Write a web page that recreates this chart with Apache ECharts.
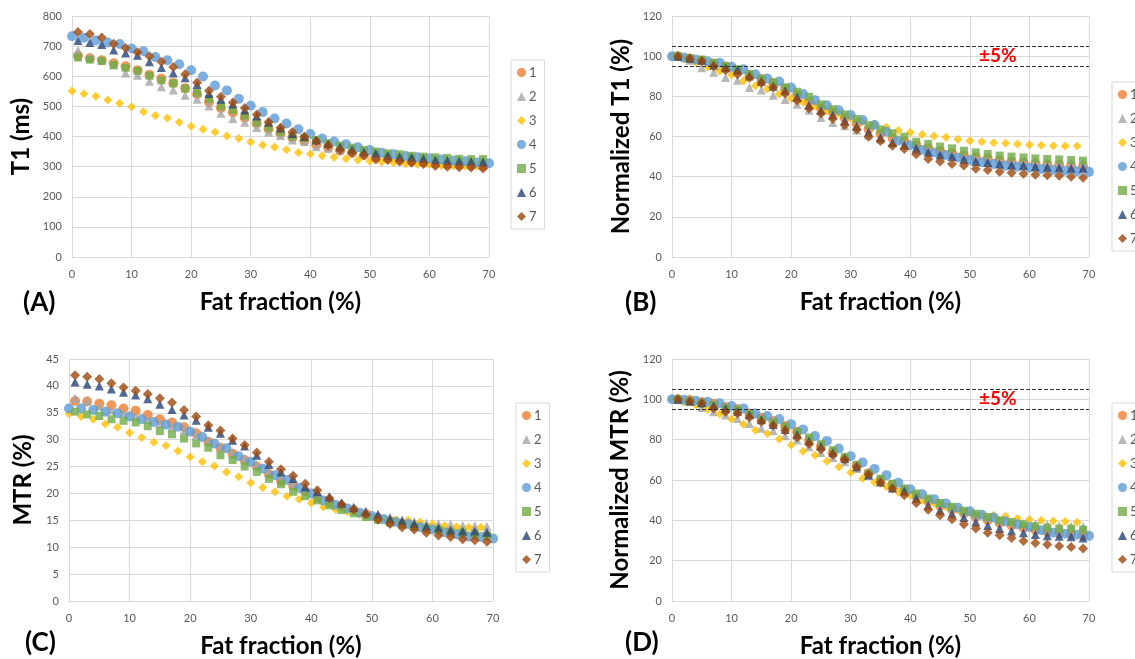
<!DOCTYPE html>
<html>
<head>
<meta charset="utf-8">
<script src="https://cdn.jsdelivr.net/npm/echarts@6/dist/echarts.min.js"></script>
<style>
  html, body { margin: 0; padding: 0; background: #fff; }
  #chart { width: 1135px; height: 659px; }
</style>
</head>
<body>
<div id="chart"></div>
<script>
// fat fraction (%) sampling used in the figure
var xOdd = [1,3,5,7,9,11,13,15,17,19,21,23,25,27,29,31,33,35,37,39,41,43,45,47,49,51,53,55,57,59,61,63,65,67,69];
var xEven = [0,2,4,6,8,10,12,14,16,18,20,22,24,26,28,30,32,34,36,38,40,42,44,46,48,50,52,54,56,58,60,62,64,66,68,70];
var names = ['1','2','3','4','5','6','7'];

// (A) T1 (ms)
var t1_1 = [668,660,653,643,633,620,605,592,578,560,540,515,495,480,462,443,425,410,396,385,373,362,353,345,338,332,327,322,318,314,311,308,306,304,302];
var t1_2 = [686,664,653,637,611,603,583,565,554,537,524,501,477,460,447,430,415,403,388,383,366,361,355,350,344,339,335,333,330,328,325,324,323,322,322];
var t1_3 = [551,542,534,521,510,499,482,470,461,447,434,424,415,402,393,382,372,365,356,347,342,336,331,326,322,318,315,313,309,308,307,304,303,302,302];
var t1_4 = [733,728,719,712,707,692,683,664,653,640,620,599,569,553,525,502,481,460,443,424,408,393,383,374,364,355,346,341,335,331,328,324,320,318,314,311];
var t1_5 = [662,655,651,638,628,618,602,586,576,559,545,524,501,488,469,447,430,416,400,395,388,377,370,363,355,350,344,341,336,333,331,329,326,325,325];
var t1_6 = [719,712,705,687,677,670,648,629,611,595,573,543,524,508,488,468,447,428,410,400,388,377,366,357,349,344,338,333,331,327,322,320,318,317,315];
var t1_7 = [747,740,729,708,694,680,666,648,631,607,579,552,532,513,495,473,448,429,415,399,385,370,355,346,338,324,322,317,313,309,302,300,298,297,294];

// (B) Normalized T1 (%)
var nt1_1 = [100,98.8,97.8,96.3,94.8,92.8,90.6,88.6,86.5,83.8,80.8,77.1,74.1,71.9,69.2,66.3,63.6,61.4,59.3,57.6,55.8,54.2,52.8,51.6,50.6,49.7,49,48.2,47.6,47,46.6,46.1,45.8,45.5,45.2];
var nt1_2 = [100,98,94.2,92,89.4,88,84.4,83.1,80.6,78.4,76.1,73.1,69.5,67,65.4,63.2,60.7,58.6,56.9,55.8,53.4,52.6,51.8,51,50.2,49.4,48.8,48.5,48.1,47.8,47.4,47.2,47.1,46.9,46.9];
var nt1_3 = [100,98.5,97,94.6,92.6,90.6,87.6,85.3,83.7,81.2,78.8,77,75.3,73,71.3,69.3,67.5,66.2,64.6,63,62,61,60.2,59.6,58.6,57.9,57.4,56.9,56.6,56.3,55.9,55.6,55.4,55.3,55.3];
var nt1_4 = [100,99.3,98.3,97.3,96.7,94.7,93.5,91,88.9,87.4,84.4,81.1,78.1,75.5,73.1,70.7,68.2,65.7,62.4,58,55.6,53.3,52,50.8,49.6,48.3,47.2,46.3,45.5,45,44.5,43.8,43.3,43,42.7,42.4];
var nt1_5 = [100,99,98.3,96.5,95,93.5,91,88.7,87,84.5,82.3,79.8,76,73.6,71,68.7,65.7,63.5,61.6,59.9,57.4,56.3,55,54.1,52.9,52.1,51.3,50.5,50,49.6,49.1,48.8,48.6,48.3,48];
var nt1_6 = [100,99,98,95.5,94.2,93.2,90.1,87.5,85,82.8,79.7,75.5,72.9,70.7,67.9,65.1,62.2,59.5,57,55.8,54.1,52.1,50.8,50,48.6,47.6,47,46.3,45.8,45.5,45,44.7,44.5,44.2,44.2];
var nt1_7 = [100,98.8,97.6,95,93,91,89.2,86.7,84.4,81.4,77.8,74,71.5,68.8,65.7,63.5,59.9,57.7,55.4,53.8,51.1,48.8,47.5,46.3,45.5,44,43.3,42.4,41.9,41.4,41,40.7,40.4,40,39.5];

// (C) MTR (%)
var mtr_1 = [37.2,37.1,36.7,36.4,35.8,35.4,34.6,33.8,33.2,32.3,31.2,29.6,28.5,27.4,26.2,25,23.6,22.3,21.4,20.4,19.3,18.4,17.6,16.9,16.2,15.5,14.9,14.4,13.9,13.5,13.1,12.8,12.5,12.3,12.1];
var mtr_2 = [37.7,37.2,36.2,35.5,34.9,34.3,33.8,33,32.4,31.7,30.8,29.7,28.7,27.6,26.5,25.4,24,23.1,21.8,20.9,20,19.1,18.3,17.5,16.7,16.1,15.6,15.1,14.8,14.5,14.4,14.3,14.1,14,13.9];
var mtr_3 = [34.8,34.3,33.8,32.9,32.3,31.3,30.4,29.5,28.9,27.9,26.8,25.9,25.1,24,23.1,22,21.1,20.3,19.5,18.9,18.2,17.5,17,16.6,16.1,15.6,15.3,15.1,15,14.7,14.3,14,13.8,13.7,13.7];
var mtr_4 = [35.8,35.8,35.5,35.2,34.9,34.3,33.8,33.3,32.8,32.4,31.5,30.5,29.3,28.4,26.9,25.9,24.6,23.4,22.5,21,20,18.7,17.9,17.2,16.4,15.8,15.2,14.7,14.3,13.7,13.3,12.8,12.4,12,11.9,11.6];
var mtr_5 = [35.2,34.7,34.4,33.8,33.5,33.2,32.5,31.6,31,30.2,29.3,28.5,27.1,26.2,25,24,22.7,21.7,20.3,19.5,18.7,17.8,16.9,16.3,15.6,15.1,14.6,14.2,13.8,13.5,13.2,12.8,12.7,12.5,12.2];
var mtr_6 = [40.7,40.3,40,39.4,38.8,38.3,37.6,36.6,35.6,34.6,33.6,32.3,31.2,29.9,28.8,27.1,25.4,24,22.8,21.2,20.3,19.4,18.2,17.4,16.6,16.1,15.3,14.9,14.4,13.9,13.6,13.2,13,13,12.8];
var mtr_7 = [42,41.7,41.3,40.5,39.7,39.1,38.5,37.7,36.9,35.5,34.3,32.7,31.7,30.2,29,27.6,25.9,24.5,23.3,21.8,20.6,19.1,18,17,16.1,15.1,14.3,13.7,13.3,12.7,12.2,11.9,11.5,11.3,11];

// (D) Normalized MTR (%)
var nmtr_1 = [100,99.7,98.7,97.8,96.2,95.2,93,90.9,89.2,86.8,83.9,79.6,76.6,73.7,70.4,67.2,63.4,59.9,57.5,54.8,51.9,49.5,47.3,45.4,43.5,41.7,40.1,38.7,37.4,36.3,35.2,34.4,33.6,33.1,32.5];
var nmtr_2 = [100,99.6,96,93.8,92.2,90.5,88,85.6,84.4,81.9,79.8,76.5,73.6,71.2,69,65.7,62.9,59.6,56.6,55.4,53,50.7,48.5,46.4,44.3,42.7,41.4,40.1,39.3,38.5,38.2,37.9,37.4,37.1,36.9];
var nmtr_3 = [100,98.8,97.2,95,92.7,90.2,87.6,84.7,83.1,80.3,77.3,74.3,72.3,69.3,66.5,63.7,60.7,58.7,56.6,54.1,52.5,50,48.3,46.7,45.3,43.8,42.8,42.5,42,40.9,40.4,40,39.7,39.4,39];
var nmtr_4 = [100,99.8,99.3,98.8,98,96.7,95.5,93,91.7,90.2,87.7,85.1,81.8,79.4,75.6,71.8,68.7,65.5,62.4,58.6,55.4,52.9,50.5,48.3,46.2,44.5,42.8,41.4,39.5,38,36.7,35.1,33.9,33.4,32.9,32.3];
var nmtr_5 = [100,99.1,98,97.2,95.5,94.7,92.5,90,88.5,86.4,83.9,81.1,77.8,74.8,71.5,67.4,63.2,60.7,58.2,55.8,53.3,50.8,48.6,46.7,44.7,43.3,41.7,40,39.2,38,37.1,36.4,35.9,35.9,35.4];
var nmtr_6 = [100,99,98.3,96.8,95.3,94.1,92.4,89.9,87.5,85,82.6,79.4,76.7,73.5,70.8,66.6,62.4,59,56,54.6,51,47.5,45,43.3,41.4,39.2,37.5,35.9,34.7,33.9,33,32.3,32.1,31.8,31.3];
var nmtr_7 = [100,99.1,98,95.5,93.8,93,91,88.9,87,84.6,81.1,77.8,75.3,72.5,70.2,66.5,62.9,58.7,55.8,52.5,48.6,45.3,42.5,40.5,38,35.9,33.9,32.6,31.3,29.8,28.8,28,27.3,26.8,26];

// limit lines and label for the normalized panels
var limitLines = [105, 95];
var limitLabel = '±5%';
var limitLabelAt = [54.7, 100];

var FONT = 'Lato';
var colors = ['#ED7D31','#A5A5A5','#FFC000','#5B9BD5','#70AD47','#264478','#9E480E'];
var symbols = ['circle','triangle','diamond','circle','rect','triangle','diamond'];
var sizes = [10,9,9,10,8,9,10];
var xsFor = [xOdd, xOdd, xEven, xEven, xOdd, xOdd, xOdd];

var panels = [
  {data:[t1_1,t1_2,t1_3,t1_4,t1_5,t1_6,t1_7], yMax:800, yStep:100, yName:'T1 (ms)', grid:{left:72, top:16, width:417, height:241}, yGap:39, legend:{left:511, top:60}, limits:false},
  {data:[nt1_1,nt1_2,nt1_3,nt1_4,nt1_5,nt1_6,nt1_7], yMax:120, yStep:20, yName:'Normalized T1 (%)', grid:{left:672, top:16, width:417, height:241}, yGap:39, legend:{left:1112, top:82}, limits:true},
  {data:[mtr_1,mtr_2,mtr_3,mtr_4,mtr_5,mtr_6,mtr_7], yMax:45, yStep:5, yName:'MTR (%)', grid:{left:69, top:359, width:424, height:242}, yGap:34, legend:{left:516, top:403}, limits:false},
  {data:[nmtr_1,nmtr_2,nmtr_3,nmtr_4,nmtr_5,nmtr_6,nmtr_7], yMax:120, yStep:20, yName:'Normalized MTR (%)', grid:{left:672, top:359, width:417, height:242}, yGap:40, legend:{left:1112, top:403}, limits:true}
];
var panelTags = [['(A)',23,290],['(B)',625,290],['(C)',25,630],['(D)',625,630]];

var grids = [], xAxes = [], yAxes = [], legends = [], series = [];
panels.forEach(function(p, k){
  grids.push(p.grid);
  xAxes.push({
    type:'value', gridIndex:k, min:0, max:70, interval:10,
    name:'Fat fraction (%)', nameLocation:'middle', nameGap:33,
    nameTextStyle:{fontFamily:FONT, fontSize:24, fontWeight:'bold', color:'#000'},
    axisLine:{show:true, lineStyle:{color:'#d9d9d9'}}, axisTick:{show:false},
    axisLabel:{fontFamily:FONT, fontSize:11, color:'#595959', margin:12},
    splitLine:{show:true, lineStyle:{color:'#d9d9d9'}}
  });
  yAxes.push({
    type:'value', gridIndex:k, min:0, max:p.yMax, interval:p.yStep,
    name:p.yName, nameLocation:'middle', nameGap:p.yGap,
    nameTextStyle:{fontFamily:FONT, fontSize:24, fontWeight:'bold', color:'#000'},
    axisLine:{show:false}, axisTick:{show:false},
    axisLabel:{fontFamily:FONT, fontSize:11, color:'#595959', margin:10},
    splitLine:{show:true, lineStyle:{color:'#d9d9d9'}}
  });
  legends.push({
    orient:'vertical', left:p.legend.left, top:p.legend.top, data:names,
    itemWidth:9, itemHeight:9, itemGap:11,
    padding:[6,8,6,6], borderColor:'#d9d9d9', borderWidth:1,
    textStyle:{fontFamily:FONT, fontSize:13, color:'#595959', padding:[0,0,0,-2]}
  });
  p.data.forEach(function(ys, i){
    var s = {
      name:names[i], type:'scatter', xAxisIndex:k, yAxisIndex:k,
      symbol:symbols[i], symbolSize:sizes[i],
      itemStyle:{color:colors[i]},
      data:ys.map(function(v, j){ return [xsFor[i][j], v]; })
    };
    if (p.limits && i === 6) {
      s.markLine = {
        silent:true, symbol:'none', label:{show:false},
        lineStyle:{type:[4,2], color:'#333333', width:1},
        data:limitLines.map(function(v){ return {yAxis:v}; })
      };
      s.markPoint = {
        silent:true, symbol:'circle', symbolSize:0,
        label:{show:true, formatter:limitLabel, color:'#FF0000', fontFamily:FONT, fontSize:19, fontWeight:'bold'},
        data:[{coord:limitLabelAt}]
      };
    }
    series.push(s);
  });
});

var chart = echarts.init(document.getElementById('chart'));
chart.setOption({
  animation:false,
  grid:grids, xAxis:xAxes, yAxis:yAxes, legend:legends, series:series,
  graphic:panelTags.map(function(t){
    return {type:'text', left:t[1], top:t[2], style:{text:t[0], font:'bold 26px ' + FONT, fill:'#000'}};
  })
});
</script>
</body>
</html>
